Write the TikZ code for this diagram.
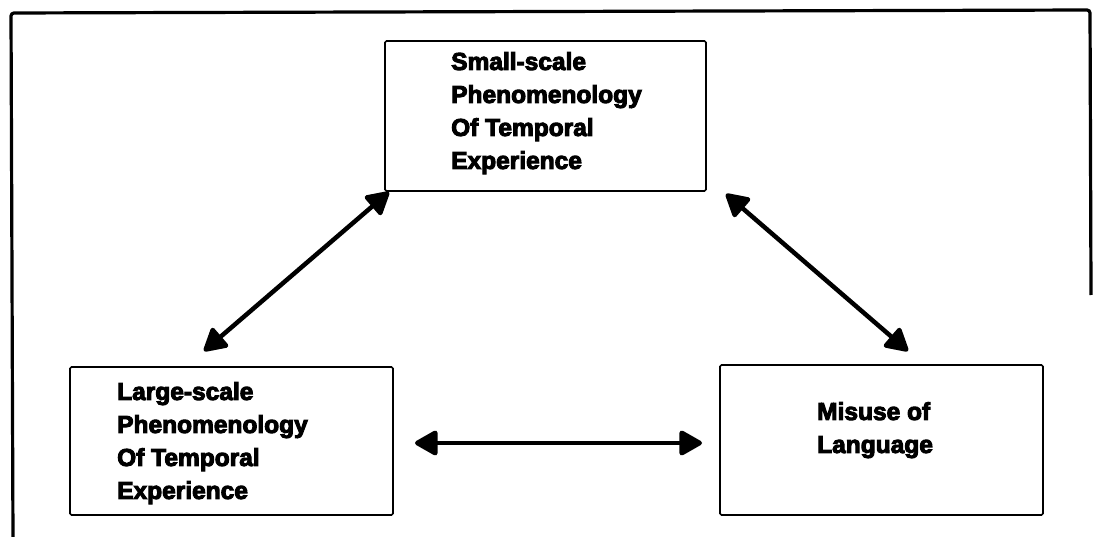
\documentclass[tikz,border=0pt]{standalone}
\usepackage{fontspec}
\setmainfont{Liberation Sans}
\newfontfamily\heavyfont{Liberation Sans}[BoldFeatures={FakeBold=4}]
\usetikzlibrary{arrows.meta}
\begin{document}
\begin{tikzpicture}[x=1pt,y=-1pt,
  box/.style={draw, line width=1.6pt, rounded corners=1.5pt, inner sep=0pt},
  label/.style={anchor=north west, inner sep=0pt, align=left,
    font=\heavyfont\bfseries\fontsize{24.5}{33}\selectfont},
  link/.style={line width=4.5pt, {Triangle[length=25pt,width=27pt,round]}-{Triangle[length=25pt,width=27pt,round]}}]
  \useasboundingbox (0,0) rectangle (1094,537);
  % outer frame
  \draw[line width=3.2pt, rounded corners=3pt] (1091,295) -- (1090,10) -- (11,13) -- (13,540);
  % boxes
  \node[box, minimum width=321pt, minimum height=150pt] (top) at (545.5,116) {};
  \node[box, minimum width=323pt, minimum height=148pt] (lft) at (231.5,441) {};
  \node[box, minimum width=323pt, minimum height=150pt] (rgt) at (881.5,440) {};
  % texts
  \node[label] (ttop) at (451,52) {Small-scale\\Phenomenology\\Of Temporal\\Experience};
  \node[label] (tlft) at (117,382) {Large-scale\\Phenomenology\\Of Temporal\\Experience};
  \node[label] (trgt) at (817,402) {Misuse of\\Language};
  % arrow end points
  \coordinate (a1) at (204,351);
  \coordinate (a2) at (389,192);
  \coordinate (b1) at (726,194);
  \coordinate (b2) at (908,351);
  \coordinate (c1) at (415,443);
  \coordinate (c2) at (702,443);
  \draw[link] (a1) -- (a2);
  \draw[link] (b1) -- (b2);
  \draw[link] (c1) -- (c2);
\end{tikzpicture}
\end{document}
